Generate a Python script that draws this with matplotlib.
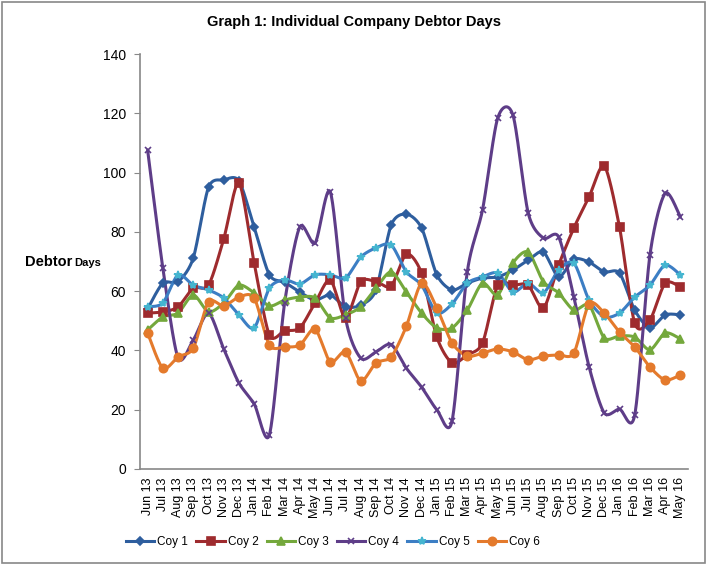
import numpy as np
import matplotlib
matplotlib.use('Agg')
import matplotlib.pyplot as plt
from matplotlib.lines import Line2D
from matplotlib.patches import Rectangle

months = ['Jun 13', 'Jul 13', 'Aug 13', 'Sep 13', 'Oct 13', 'Nov 13', 'Dec 13',
          'Jan 14', 'Feb 14', 'Mar 14', 'Apr 14', 'May 14', 'Jun 14', 'Jul 14',
          'Aug 14', 'Sep 14', 'Oct 14', 'Nov 14', 'Dec 14', 'Jan 15', 'Feb 15',
          'Mar 15', 'Apr 15', 'May 15', 'Jun 15', 'Jul 15', 'Aug 15', 'Sep 15',
          'Oct 15', 'Nov 15', 'Dec 15', 'Jan 16', 'Feb 16', 'Mar 16', 'Apr 16',
          'May 16']

coy1 = [54, 62.7, 63.2, 71.2, 95, 97.5, 97.2, 81.6, 65.5, 63, 59.7, 57,
        58.7, 54.7, 55.3, 60.4, 82.3, 86, 81.3, 65.5, 60.4, 62.7, 64.4, 64.8,
        67.1, 70.5, 73.2, 64.8, 70.8, 69.8, 66.5, 66.1, 53.6, 47.6, 52, 52]
coy2 = [52.6, 53, 54.7, 61, 62, 77.6, 96.5, 69.5, 45.2, 46.6, 47.6, 56,
        63.8, 51, 63.2, 63.2, 61.7, 72.5, 66, 44.5, 35.8, 38.5, 42.5, 62,
        62, 62, 54.3, 68.8, 81.3, 91.8, 102.2, 81.6, 49.2, 50.3, 62.7, 61.4]
coy3 = [46.9, 51.3, 52.6, 58.7, 53, 56, 62, 59.4, 55, 57, 58, 57.7,
        51, 52, 54.7, 61, 66.5, 59.7, 52.6, 47.6, 47.6, 53.6, 62.7, 58.7,
        69.5, 73.2, 63.2, 59.4, 53.6, 55.3, 44.2, 44.9, 44.5, 40.2, 45.9, 43.9]
coy4 = [107.6, 67.8, 37.5, 43.5, 52.6, 40.5, 29, 22, 11.5, 56, 81.7, 76.2,
        93.5, 51, 37.4, 39.5, 42, 34, 27.6, 20, 16.2, 66.5, 87.4, 118.4,
        119.4, 86.4, 77.9, 78.3, 58, 34.5, 18.9, 20.2, 18.2, 72.2, 93, 85]
coy5 = [54.7, 56, 65.5, 62, 60.4, 57.7, 52, 47.6, 61, 63.8, 62.4, 65.5,
        65.5, 64.4, 71.5, 74.6, 75.6, 66.5, 62, 52.6, 55.7, 62.7, 64.8, 66.1,
        59.7, 62.7, 59.4, 67.1, 69.5, 57, 51.3, 52.6, 58, 62, 68.8, 65.5]
coy6 = [45.9, 34, 37.8, 40.8, 56.3, 55, 58, 57.7, 41.8, 41.2, 41.8, 47.2,
        36.1, 39.5, 29.7, 35.8, 37.8, 48.2, 62.7, 54.3, 42.5, 38.1, 39.1, 40.5,
        39.5, 36.8, 38.1, 38.5, 39.1, 55.7, 52.6, 46.2, 41.2, 34.4, 30, 31.7]

series_names = ['Coy 1', 'Coy 2', 'Coy 3', 'Coy 4', 'Coy 5', 'Coy 6']
series_values = [coy1, coy2, coy3, coy4, coy5, coy6]
line_colors = ['#2E5E9E', '#9E2B2E', '#74A83C', '#5E3D88', '#3C7EC4', '#E47A2C']
marker_colors = ['#2E5E9E', '#9E2B2E', '#74A83C', '#5E3D88', '#45B5D0', '#E47A2C']
markers = ['D', 's', '^', 'x', '*', 'o']
msizes = [4, 6, 5.5, 5, 6, 6]


def smooth(y, n=24, k=0.135):
    y = np.asarray(y, float)
    x = np.arange(len(y), dtype=float)
    P = np.column_stack([x, y])
    Pp = np.vstack([P[0], P, P[-1]])
    out = []
    t = np.linspace(0, 1, n, endpoint=False)[:, None]
    for i in range(len(y) - 1):
        p0, p1, p2, p3 = Pp[i], Pp[i + 1], Pp[i + 2], Pp[i + 3]
        c1 = p1 + (p2 - p0) * k
        c2 = p2 - (p3 - p1) * k
        pts = (1 - t) ** 3 * p1 + 3 * (1 - t) ** 2 * t * c1 + 3 * (1 - t) * t ** 2 * c2 + t ** 3 * p2
        out.append(pts)
    out.append(P[-1:])
    pts = np.vstack(out)
    return pts[:, 0], pts[:, 1]


plt.rcParams['font.family'] = ['Liberation Sans', 'DejaVu Sans']

fig = plt.figure(figsize=(7.07, 5.65), dpi=100)
ax = fig.add_axes([140 / 707, 1 - 469 / 565, 548 / 707, 415 / 565])

x = np.arange(len(months))
handles = []
for name, vals, lc, mc, mk, ms in zip(series_names, series_values, line_colors,
                                       marker_colors, markers, msizes):
    sx, sy = smooth(vals)
    ax.plot(sx, sy, color=lc, lw=2.2, solid_capstyle='round', zorder=2)
    ax.plot(x, vals, linestyle='none', marker=mk, ms=ms, color=mc,
            markeredgecolor=mc, markeredgewidth=1.2, zorder=3)
    handles.append(Line2D([0], [0], color=lc, lw=2.2, marker=mk, ms=ms,
                          markerfacecolor=mc, markeredgecolor=mc, markeredgewidth=1.2))

ax.set_xlim(-0.5, len(months) - 0.5)
ax.set_ylim(0, 140)
ax.set_yticks(np.arange(0, 141, 20))
ax.set_xticks(x)
ax.set_xticklabels(months, rotation=90, fontsize=9)
ax.tick_params(axis='y', labelsize=10, length=4, color='#888888', pad=6)
ax.tick_params(axis='x', length=0, pad=6)
for s in ['top', 'right']:
    ax.spines[s].set_visible(False)
for s in ['left', 'bottom']:
    ax.spines[s].set_color('#888888')
    ax.spines[s].set_linewidth(1.2)

fig.text(354 / 707, 1 - 22 / 565, 'Graph 1: Individual Company Debtor Days',
         ha='center', va='center', fontsize=10.5, fontweight='bold')
fig.text(25 / 707, 1 - 266 / 565, 'Debtor', ha='left', va='baseline',
         fontsize=10.5, fontweight='bold')
fig.text(74 / 707, 1 - 266 / 565, 'Days', ha='left', va='baseline',
         fontsize=8, fontweight='bold')

fig.legend(handles, series_names, loc='center', bbox_to_anchor=(333 / 707, 1 - 542 / 565),
           ncol=6, frameon=False, fontsize=8.5, handlelength=2.4, handletextpad=0.25,
           columnspacing=0.7)

fig.patches.append(Rectangle((0.003, 0.003), 0.994, 0.994, transform=fig.transFigure,
                             fill=False, edgecolor='#888888', lw=1.2))

fig.savefig('out.png', dpi=100)
